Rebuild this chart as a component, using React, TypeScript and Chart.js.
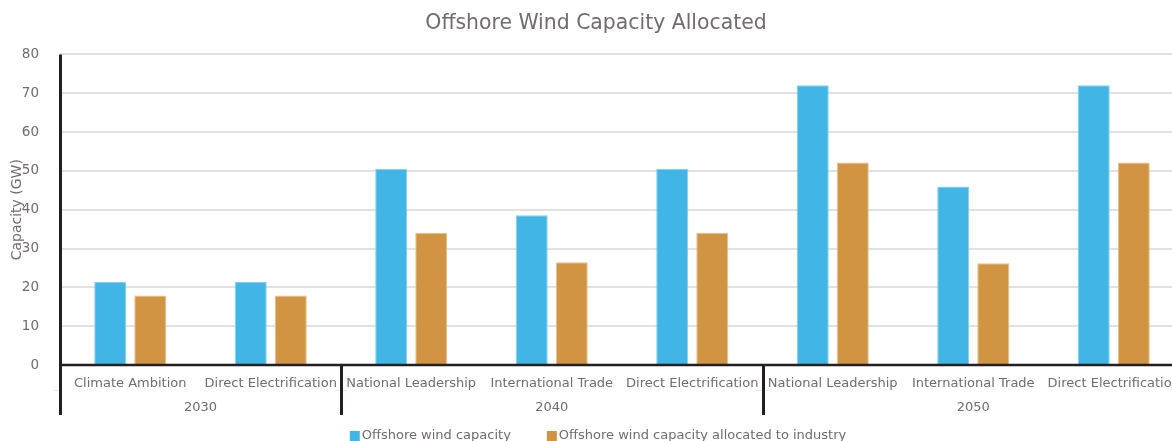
import React, { useEffect, useRef } from "react";
import { Chart, registerables } from "chart.js";

Chart.register(...registerables);

// Scenario categories, grouped by year
const scenarios = [
  "Climate Ambition",
  "Direct Electrification",
  "National Leadership",
  "International Trade",
  "Direct Electrification",
  "National Leadership",
  "International Trade",
  "Direct Electrification",
];
const years = ["2030", "2040", "2050"];
const scenariosPerYear = [2, 3, 3];

// Capacity in GW
const offshoreCapacity = [21.4, 21.4, 50.5, 38.6, 50.5, 72.1, 46.0, 72.1];
const allocatedToIndustry = [17.9, 17.9, 34.1, 26.5, 34.1, 52.2, 26.2, 52.2];

const seriesNames = ["Offshore wind capacity", "Offshore wind capacity allocated to industry"];
const yMin = 0;
const yMax = 80;
const yStep = 10;

const FONT = "'DejaVu Sans', Verdana, sans-serif";
const TEXT = "#736b6d";
const AXIS = "#231f20";
const GRID = "#e3e0e0";
const BLUE = "#41b5e5";
const ORANGE = "#d19443";

const W = 1176;
const H = 455;

// Horizontal value gridlines running out to the canvas edge
const valueGridPlugin = {
  id: "valueGrid",
  beforeDatasetsDraw(chart: any) {
    const { ctx, chartArea } = chart;
    const y = chart.scales.y;
    ctx.save();
    ctx.strokeStyle = GRID;
    ctx.lineWidth = 2;
    y.ticks.forEach((t: any) => {
      const py = Math.round(y.getPixelForValue(t.value));
      ctx.beginPath();
      ctx.moveTo(chartArea.left, py);
      ctx.lineTo(chart.width, py);
      ctx.stroke();
    });
    ctx.restore();
  },
};

// Draws the year row, group separators, axis lines and the legend
const groupedAxisPlugin = {
  id: "groupedAxis",
  afterDatasetsDraw(chart: any) {
    const { ctx, chartArea } = chart;
    const x = chart.scales.x;
    const y = chart.scales.y;
    const baseY = y.getPixelForValue(yMin);
    const topY = y.getPixelForValue(yMax);
    const half = (x.getPixelForValue(1) - x.getPixelForValue(0)) / 2;
    const lowerY = baseY + 50;
    ctx.save();

    // year labels and separators
    ctx.font = `13px ${FONT}`;
    ctx.fillStyle = TEXT;
    ctx.textAlign = "center";
    ctx.textBaseline = "middle";
    let start = 0;
    const seps: number[] = [chartArea.left];
    years.forEach((yr, g) => {
      const n = scenariosPerYear[g];
      const left = x.getPixelForValue(start) - half;
      const right = x.getPixelForValue(start + n - 1) + half;
      ctx.fillText(yr, (left + right) / 2, baseY + 43);
      if (start > 0) seps.push(left);
      start += n;
    });

    // faint level marks
    ctx.strokeStyle = "#ebe8e8";
    ctx.lineWidth = 1;
    const markY = baseY + 25.5;
    seps.forEach((sx, i) => {
      ctx.beginPath();
      ctx.moveTo(sx - 6, markY);
      ctx.lineTo(i === 0 ? sx : sx + 6, markY);
      ctx.stroke();
    });

    ctx.strokeStyle = AXIS;
    ctx.lineWidth = 3;
    seps.forEach((sx, i) => {
      ctx.beginPath();
      ctx.moveTo(Math.round(sx) + 0.5, i === 0 ? topY : baseY);
      ctx.lineTo(Math.round(sx) + 0.5, lowerY);
      ctx.stroke();
    });

    // x axis line
    ctx.lineWidth = 2.5;
    ctx.beginPath();
    ctx.moveTo(chartArea.left, baseY);
    ctx.lineTo(chart.width, baseY);
    ctx.stroke();

    // legend
    const colors = [BLUE, ORANGE];
    ctx.font = `13px ${FONT}`;
    ctx.textAlign = "left";
    const box = 10;
    const gapText = 2;
    const gapItem = 36;
    const widths = seriesNames.map((s) => ctx.measureText(s).width);
    const total = widths.reduce((a, w) => a + box + gapText + w, 0) + gapItem * (seriesNames.length - 1);
    let lx = chart.width / 2 - total / 2 + 2;
    const ly = baseY + 71;
    seriesNames.forEach((s, i) => {
      ctx.fillStyle = colors[i];
      ctx.fillRect(lx, ly - box / 2, box, box);
      ctx.fillStyle = TEXT;
      ctx.fillText(s, lx + box + gapText, ly);
      lx += box + gapText + widths[i] + gapItem;
    });

    ctx.restore();
  },
};

export default function App() {
  const canvasRef = useRef<HTMLCanvasElement>(null);

  useEffect(() => {
    // the chart is wider than the window; keep scrollbars away
    document.documentElement.style.overflow = "hidden";
    const canvas = canvasRef.current;
    if (!canvas) return;
    const chart = new Chart(canvas, {
      type: "bar",
      data: {
        labels: scenarios,
        datasets: [
          {
            label: seriesNames[0],
            data: offshoreCapacity,
            backgroundColor: BLUE,
            borderColor: "#86cff0",
            borderWidth: 1,
            categoryPercentage: 0.57,
            barPercentage: 0.8,
          },
          {
            label: seriesNames[1],
            data: allocatedToIndustry,
            backgroundColor: ORANGE,
            borderColor: "#e7c190",
            borderWidth: 1,
            categoryPercentage: 0.57,
            barPercentage: 0.8,
          },
        ],
      },
      options: {
        responsive: false,
        animation: false,
        layout: { padding: { left: 0, right: 0, top: 0, bottom: H - 357 - 60 } },
        plugins: {
          legend: { display: false },
          tooltip: { enabled: false },
          title: {
            display: true,
            text: "Offshore Wind Capacity Allocated",
            color: TEXT,
            font: { family: FONT, size: 20.4, weight: "normal" },
            padding: { top: 3, bottom: 19 },
          },
        },
        scales: {
          x: {
            grid: { display: false },
            border: { display: false },
            ticks: {
              color: TEXT,
              font: { family: FONT, size: 13 },
              padding: 3,
              maxRotation: 0,
              minRotation: 0,
              autoSkip: false,
            },
            afterFit: (scale: any) => {
              scale.height = 60;
              scale.paddingLeft = 0;
              scale.paddingRight = 0;
            },
          },
          y: {
            min: yMin,
            max: yMax,
            border: { display: false },
            grid: { display: false },
            ticks: {
              stepSize: yStep,
              color: TEXT,
              font: { family: FONT, size: 13.5 },
              padding: 13,
            },
            title: {
              display: true,
              text: "Capacity (GW)",
              color: TEXT,
              font: { family: FONT, size: 14 },
              padding: { top: 1, bottom: 0 },
            },
            afterFit: (scale: any) => {
              scale.width = 52;
            },
          },
        },
      },
      plugins: [valueGridPlugin, groupedAxisPlugin],
    });
    return () => chart.destroy();
  }, []);

  return (
    <div style={{ position: "fixed", left: 8, top: 8, width: W, height: H }}>
      <canvas ref={canvasRef} width={W} height={H} style={{ display: "block" }} />
    </div>
  );
}
